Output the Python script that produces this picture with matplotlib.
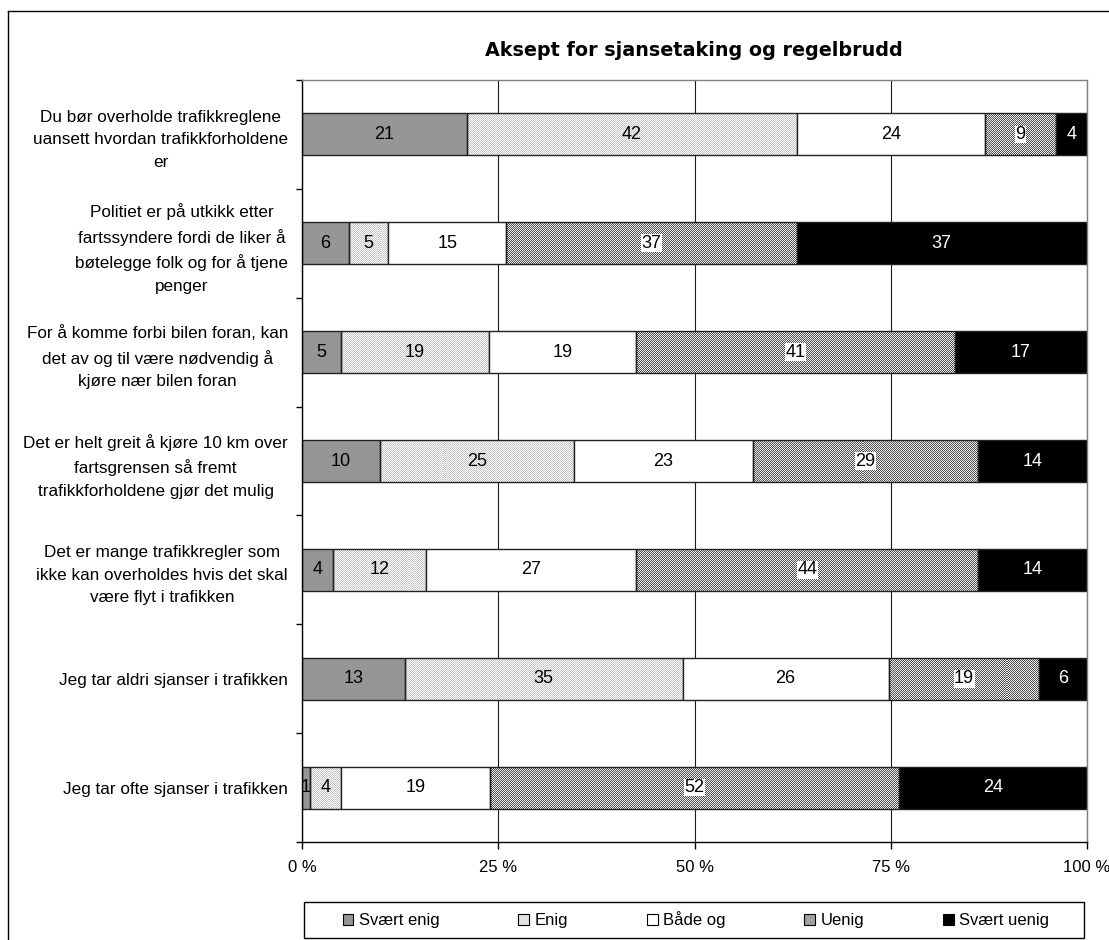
import matplotlib.pyplot as plt
import numpy as np
from matplotlib.patches import Patch, Rectangle
from matplotlib.lines import Line2D

plt.rcParams['font.family'] = ['Liberation Sans', 'DejaVu Sans']

kategorier = [
    'Du bør overholde trafikkreglene\nuansett hvordan trafikkforholdene\ner',
    'Politiet er på utkikk etter\nfartssyndere fordi de liker å\nbøtelegge folk og for å tjene\npenger',
    'For å komme forbi bilen foran, kan\ndet av og til være nødvendig å\nkjøre nær bilen foran',
    'Det er helt greit å kjøre 10 km over\nfartsgrensen så fremt\ntrafikkforholdene gjør det mulig',
    'Det er mange trafikkregler som\nikke kan overholdes hvis det skal\nvære flyt i trafikken',
    'Jeg tar aldri sjanser i trafikken',
    'Jeg tar ofte sjanser i trafikken',
]
serier = ['Svært enig', 'Enig', 'Både og', 'Uenig', 'Svært uenig']

svaert_enig = [21, 6, 5, 10, 4, 13, 1]
enig = [42, 5, 19, 25, 12, 35, 4]
baade_og = [24, 15, 19, 23, 27, 26, 19]
uenig = [9, 37, 41, 29, 44, 19, 52]
svaert_uenig = [4, 37, 17, 14, 14, 6, 24]

verdier = np.array([svaert_enig, enig, baade_og, uenig, svaert_uenig], dtype=float)
# 100 % stablet: hver rad skaleres til summen
andel = verdier / verdier.sum(axis=0) * 100

# (lys, mørk) farge i rutemønsteret; None = ensfarget
farger = ['#969696', '#e2e2e2', '#ffffff', '#a0a0a0', '#000000']
monster = [None, ('#ffffff', '#c4c4c4'), None, ('#ececec', '#505050'), None]

fig = plt.figure(figsize=(11.09, 9.4), dpi=100)
ax = fig.add_axes([302 / 1109, 1 - 842 / 940, 785 / 1109, 762 / 940])

y = np.arange(len(kategorier))
ylim = (len(kategorier) - 0.5, -0.5)


def rutemonster(lys, mork):
    h, w = 762, 785
    yy, xx = np.mgrid[0:h, 0:w]
    lys = np.array(plt.matplotlib.colors.to_rgb(lys))
    mork = np.array(plt.matplotlib.colors.to_rgb(mork))
    return np.where(((xx + yy) % 2 == 0)[..., None], lys, mork)


venstre = np.zeros(len(kategorier))
for i, navn in enumerate(serier):
    tekstur = monster[i]
    bars = ax.barh(y, andel[i], left=venstre, height=0.385,
                   color='none' if tekstur else farger[i],
                   edgecolor='#222222', linewidth=1.0, zorder=2)
    if tekstur:
        bilde = rutemonster(*tekstur)
        for b in bars:
            im = ax.imshow(bilde, extent=(0, 100, ylim[0], ylim[1]), aspect='auto',
                           interpolation='nearest', zorder=1.9)
            im.set_clip_path(b)
    for yi, (l, w, v) in enumerate(zip(venstre, andel[i], verdier[i])):
        kw = dict(ha='center', va='center', fontsize=13, zorder=3)
        if navn == 'Svært uenig':
            kw['color'] = 'white'
        elif navn == 'Uenig':
            kw['bbox'] = dict(facecolor='white', edgecolor='none', pad=0.3)
        ax.text(l + w / 2, yi, '%d' % v, **kw)
    venstre += andel[i]

ax.set_xlim(0, 100)
ax.set_ylim(*ylim)

ax.set_xticks([0, 25, 50, 75, 100])
ax.set_xticklabels(['0 %', '25 %', '50 %', '75 %', '100 %'], fontsize=12)
ax.tick_params(axis='x', direction='out', length=5, width=1, pad=8)
ax.xaxis.grid(True, color='#1a1a1a', linewidth=0.8)
ax.set_axisbelow(True)

# kategoritekster som minor-ticks, skillestreker som major-ticks
ax.set_yticks(np.arange(-0.5, len(kategorier), 1))
ax.set_yticklabels([])
ax.tick_params(axis='y', which='major', direction='out', length=4, width=1)
ax.set_yticks(y, minor=True)
ax.set_yticklabels(kategorier, minor=True, fontsize=12.3)
ax.tick_params(axis='y', which='minor', length=0, pad=10)
for t in ax.get_yticklabels(minor=True):
    t.set_multialignment('center')
    t.set_linespacing(1.62)

for s in ['top', 'right']:
    ax.spines[s].set_color('#808080')
for s in ['left', 'bottom']:
    ax.spines[s].set_color('black')
for s in ax.spines.values():
    s.set_linewidth(1)

fig.text(694 / 1109, 1 - 50 / 940, 'Aksept for sjansetaking og regelbrudd',
         ha='center', va='center', fontsize=13.8, fontweight='bold',
         family=['DejaVu Sans'])

# forklaring i egen ramme under diagrammet
fig.add_artist(Rectangle((304 / 1109, 1 - 938 / 940), 780 / 1109, 36 / 940,
                         transform=fig.transFigure, facecolor='white',
                         edgecolor='black', linewidth=1))
handles = [Patch(facecolor=c, edgecolor='black', linewidth=0.8) for c in farger]
fig.legend(handles, serier, loc='center', bbox_to_anchor=(696 / 1109, 1 - 920 / 940),
           ncol=5, frameon=False, fontsize=12, columnspacing=4.7,
           handlelength=0.65, handleheight=0.65, handletextpad=0.35)

# ytre ramme
fig.add_artist(Line2D([8 / 1109, 8 / 1109], [0, 1 - 11 / 940], color='black',
                      linewidth=1, transform=fig.transFigure))
fig.add_artist(Line2D([8 / 1109, 1], [1 - 11 / 940, 1 - 11 / 940], color='black',
                      linewidth=1, transform=fig.transFigure))

fig.savefig('out.png', dpi=100)
